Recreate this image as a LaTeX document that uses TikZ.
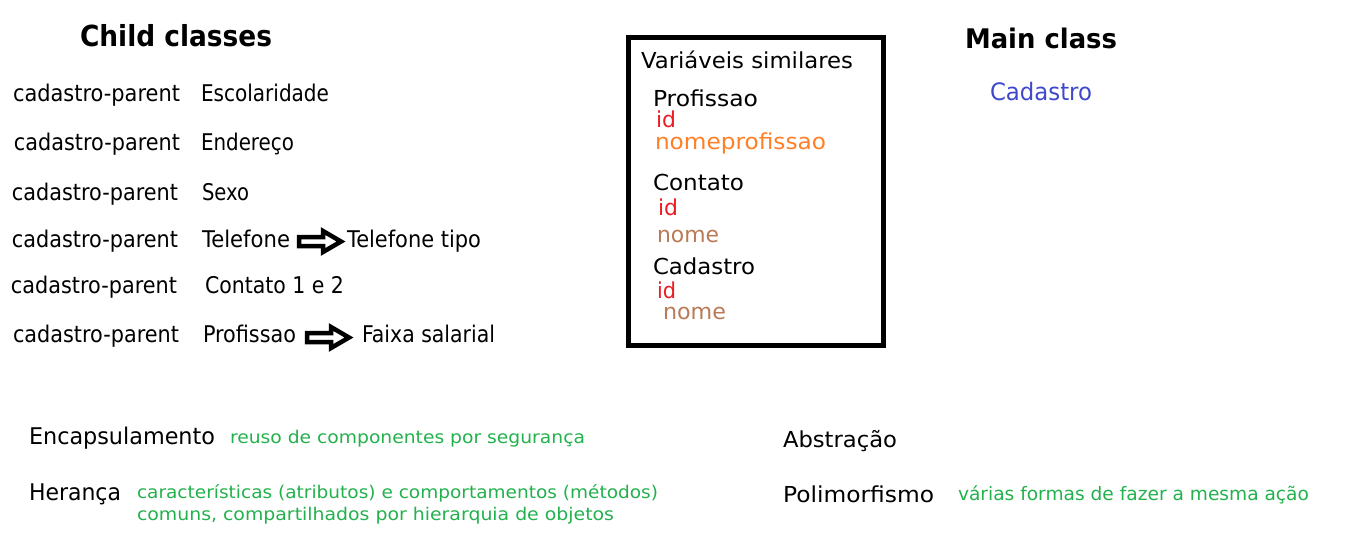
\documentclass[tikz,border=0pt]{standalone}
\usepackage{fontspec}
\usepackage{graphicx}
\setmainfont{DejaVu Sans}
\definecolor{pred}{HTML}{ED1C24}
\definecolor{porange}{HTML}{FF7F27}
\definecolor{pbrown}{HTML}{B97A57}
\definecolor{pblue}{HTML}{3F48CC}
\definecolor{pgreen}{HTML}{22B14C}
\newsavebox\fitbox
\newcommand\fitw[2]{\sbox\fitbox{#2}\pgfmathsetmacro\fitr{#1/(\the\wd\fitbox)}\scalebox{\fitr}[1]{\usebox\fitbox}}
\tikzset{
  txt/.style={inner sep=0pt, outer sep=0pt, anchor=base west},
  head/.style={txt, font=\bfseries\fontsize{29}{34}\selectfont},
  row/.style={txt, font=\fontsize{23}{27}\selectfont},
  boxt/.style={txt, font=\fontsize{22}{26}\selectfont},
  concept/.style={txt, font=\fontsize{22}{26}\selectfont},
  note/.style={txt, font=\fontsize{17.5}{20}\selectfont, text=pgreen},
  blockarrow/.style={draw=black, line width=4.5pt, line join=miter, fill=white},
}
\newcommand\blockarr[2]{% #1 = left x, #2 = centre y
  \draw[blockarrow] (#1,#2-4.5) -- ++(24,0) -- ++(0,-6) -- ++(18,10.5) -- ++(-18,10.5) -- ++(0,-6) -- ++(-24,0) -- cycle;}
\begin{document}
\begin{tikzpicture}[x=1pt,y=-1pt]
\useasboundingbox (0,0) rectangle (1348,547);
% headings
\node[head] (hchild) at (80,46) {\fitw{192}{Child classes}};
\node[head, font=\bfseries\fontsize{27}{32}\selectfont] (hmain) at (965,48) {\fitw{152}{Main class}};
\node[txt, font=\fontsize{24}{28}\selectfont, text=pblue] (mcad) at (990,100) {\fitw{102}{Cadastro}};
% child rows
\node[row] (p1) at (13,101) {\fitw{167}{cadastro-parent}};
\node[row] (c1) at (201,101) {\fitw{128}{Escolaridade}};
\node[row] (p2) at (14,150) {\fitw{166}{cadastro-parent}};
\node[row] (c2) at (201,150) {\fitw{93}{Endereço}};
\node[row] (p3) at (12,200) {\fitw{166}{cadastro-parent}};
\node[row] (c3) at (202,200) {\fitw{47}{Sexo}};
\node[row] (p4) at (12,247) {\fitw{166}{cadastro-parent}};
\node[row] (c4) at (202,247) {\fitw{88}{Telefone}};
\node[row] (c4b) at (347,247) {\fitw{134}{Telefone tipo}};
\node[row] (p5) at (11,293) {\fitw{166}{cadastro-parent}};
\node[row] (c5) at (205,293) {\fitw{139}{Contato 1 e 2}};
\node[row] (p6) at (13,342) {\fitw{166}{cadastro-parent}};
\node[row] (c6) at (203,342) {\fitw{93}{Profissao}};
\node[row] (c6b) at (362,342) {\fitw{133}{Faixa salarial}};
% block arrows
\blockarr{299}{241.5}
\blockarr{307}{337.5}
% box
\node[draw=black, line width=5pt, inner sep=0pt, outer sep=0pt, minimum width=255pt, minimum height=308pt, anchor=north west] (vbox) at (628.5,37.5) {};
\node[boxt] (vs) at (641,68) {\fitw{212}{Variáveis similares}};
\node[boxt] (b1) at (653,106) {\fitw{105}{Profissao}};
\node[boxt, text=pred] (b1id) at (656,127) {\fitw{20}{id}};
\node[boxt, text=porange] (b1n) at (655,149) {\fitw{171}{nomeprofissao}};
\node[boxt] (b2) at (653,190) {\fitw{91}{Contato}};
\node[boxt, text=pred] (b2id) at (658,215) {\fitw{20}{id}};
\node[boxt, text=pbrown] (b2n) at (657,242) {\fitw{62}{nome}};
\node[boxt] (b3) at (653,274) {\fitw{102}{Cadastro}};
\node[boxt, text=pred] (b3id) at (657,298) {\fitw{19}{id}};
\node[boxt, text=pbrown] (b3n) at (663,319) {\fitw{63}{nome}};
% concepts
\node[concept, font=\fontsize{23}{27}\selectfont] (enc) at (29,444) {\fitw{186}{Encapsulamento}};
\node[note] (encn) at (230,443) {\fitw{355}{reuso de componentes por segurança}};
\node[concept, font=\fontsize{23}{27}\selectfont] (her) at (29,500) {\fitw{92}{Herança}};
\node[note] (hern1) at (137,498) {\fitw{521}{características (atributos) e comportamentos (métodos)}};
\node[note] (hern2) at (137,520) {\fitw{477}{comuns, compartilhados por hierarquia de objetos}};
\node[concept] (abs) at (783,447) {\fitw{114}{Abstração}};
\node[concept] (pol) at (783,502) {\fitw{151}{Polimorfismo}};
\node[note, font=\fontsize{18.5}{21}\selectfont] (poln) at (958,500) {\fitw{351}{várias formas de fazer a mesma ação}};
\end{tikzpicture}
\end{document}
